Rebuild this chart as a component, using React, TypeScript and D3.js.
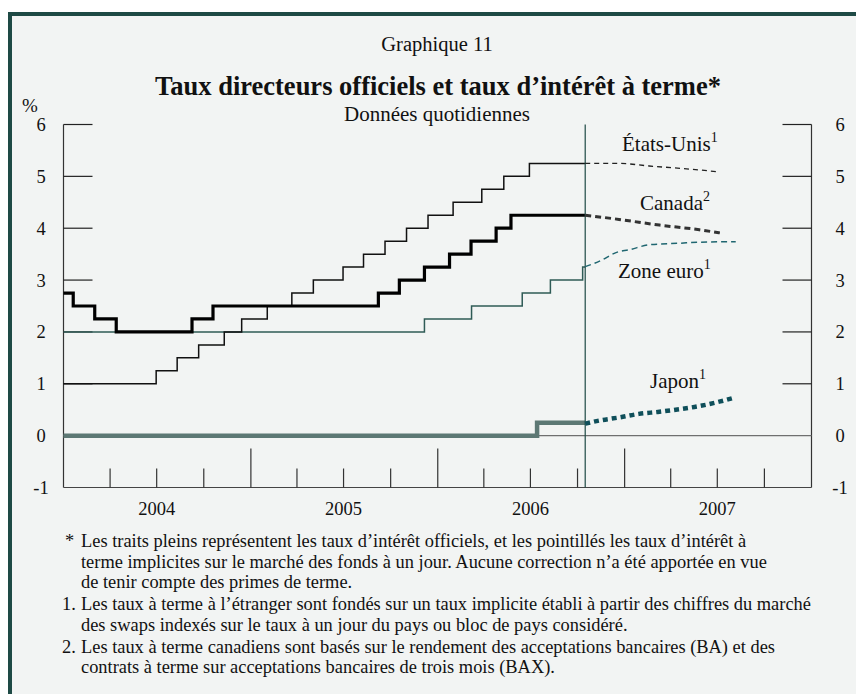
import React from "react";
import * as d3 from "d3";

const usDates = ["2004-01-01","2004-06-30","2004-08-10","2004-09-21","2004-11-10","2004-12-14","2005-02-02","2005-03-22","2005-05-03","2005-06-30","2005-08-09","2005-09-20","2005-11-01","2005-12-13","2006-01-31","2006-03-28","2006-05-10","2006-06-29","2006-10-16"];
const usValues = [1.0,1.25,1.5,1.75,2.0,2.25,2.5,2.75,3.0,3.25,3.5,3.75,4.0,4.25,4.5,4.75,5.0,5.25,5.25];

const caDates = ["2004-01-01","2004-01-20","2004-03-02","2004-04-13","2004-09-08","2004-10-19","2005-09-07","2005-10-18","2005-12-06","2006-01-24","2006-03-07","2006-04-25","2006-05-24","2006-10-16"];
const caValues = [2.75,2.5,2.25,2.0,2.25,2.5,2.75,3.0,3.25,3.5,3.75,4.0,4.25,4.25];

const euDates = ["2004-01-01","2005-12-06","2006-03-08","2006-06-15","2006-08-09","2006-10-11","2006-10-16"];
const euValues = [2.0,2.25,2.5,2.75,3.0,3.25,3.25];

const jpDates = ["2004-01-01","2006-07-14","2006-10-16"];
const jpValues = [0.0,0.25,0.25];

const usFwdDates = ["2006-10-16","2006-12-21","2007-02-18","2007-05-08","2007-07-01"];
const usFwdValues = [5.25,5.25,5.2,5.14,5.09];

const caFwdDates = ["2006-10-16","2006-12-21","2007-03-10","2007-05-27","2007-07-06"];
const caFwdValues = [4.25,4.17,4.06,3.97,3.91];

const euFwdDates = ["2006-10-16","2006-11-12","2006-12-21","2007-01-08","2007-02-18","2007-04-18","2007-05-27","2007-08-06"];
const euFwdValues = [3.26,3.36,3.55,3.58,3.68,3.71,3.73,3.74];

const jpFwdDates = ["2006-10-16","2006-11-12","2006-12-21","2007-01-29","2007-03-10","2007-04-18","2007-05-27","2007-07-07","2007-08-06"];
const jpFwdValues = [0.23,0.29,0.35,0.42,0.46,0.51,0.57,0.66,0.74];

const yTicks = [-1,0,1,2,3,4,5,6];
const yearLabels = ["2004","2005","2006","2007"];
const cutoffDate = "2006-10-16";

const footnotes = [
  { mark: "*", lines: ["Les traits pleins représentent les taux d’intérêt officiels, et les pointillés les taux d’intérêt à","terme implicites sur le marché des fonds à un jour. Aucune correction n’a été apportée en vue","de tenir compte des primes de terme."] },
  { mark: "1.", lines: ["Les taux à terme à l’étranger sont fondés sur un taux implicite établi à partir des chiffres du marché","des swaps indexés sur le taux à un jour du pays ou bloc de pays considéré."] },
  { mark: "2.", lines: ["Les taux à terme canadiens sont basés sur le rendement des acceptations bancaires (BA) et des","contrats à terme sur acceptations bancaires de trois mois (BAX)."] },
];

const parse = d3.utcParse("%Y-%m-%d");
const FONT = "'Liberation Serif', 'Times New Roman', serif";

export default function App() {
  const L = 63.5, R = 811.5, T = 124.5, B = 487.5;
  const x = d3.scaleUtc().domain([new Date(Date.UTC(2004,0,1)), new Date(Date.UTC(2008,0,1))]).range([L, R]);
  const y = d3.scaleLinear().domain([-1, 6]).range([B, T]);

  const toPts = (ds: string[], vs: number[]) => ds.map((d, i) => [parse(d) as Date, vs[i]] as [Date, number]);
  const step = d3.line<[Date, number]>().x(d => x(d[0])).y(d => y(d[1])).curve(d3.curveStepAfter);
  const smooth = d3.line<[Date, number]>().x(d => x(d[0])).y(d => y(d[1])).curve(d3.curveMonotoneX);

  const quarters = d3.utcMonth.every(3)!.range(new Date(Date.UTC(2004,3,1)), new Date(Date.UTC(2008,0,1)));
  const cx = x(parse(cutoffDate) as Date);

  let fy = 547;
  const fnLines: any[] = [];
  footnotes.forEach((f, fi) => {
    f.lines.forEach((ln, li) => {
      if (li === 0) fnLines.push(<text key={`m${fi}`} x={f.mark === "*" ? 65 : 62} y={fy} fontSize={18.4}>{f.mark}</text>);
      fnLines.push(<text key={`l${fi}-${li}`} x={81} y={fy} fontSize={18.4}>{ln}</text>);
      fy += 20.5;
    });
    fy += 1.5;
  });

  const lab = 21;
  const sup = 14;

  return (
    <svg width={856} height={694} style={{ position: "absolute", left: 0, top: 0 }} fontFamily={FONT}>
      <rect x={0} y={0} width={856} height={694} fill="#ffffff" />
      <rect x={8} y={12} width={860} height={700} fill="#1e4a45" />
      <rect x={12} y={16} width={860} height={700} fill="#f2f4f3" />

      <text x={437} y={51} fontSize={20.5} textAnchor="middle" fill="#111">Graphique 11</text>
      <text x={438} y={95} fontSize={26.5} fontWeight="bold" textAnchor="middle" fill="#111">Taux directeurs officiels et taux d’intérêt à terme*</text>
      <text x={437} y={120.5} fontSize={21} textAnchor="middle" fill="#111">Données quotidiennes</text>
      <text x={30} y={112} fontSize={19} textAnchor="middle" fill="#111">%</text>

      {/* axes */}
      <line x1={L} x2={L} y1={T} y2={B} stroke="#333" strokeWidth={1.2} />
      <line x1={R} x2={R} y1={T} y2={B} stroke="#333" strokeWidth={1.2} />
      <line x1={L} x2={R} y1={B} y2={B} stroke="#444" strokeWidth={1.2} />
      {yTicks.filter(t => t !== -1 && t !== 0).map(t => (
        <g key={`yt${t}`}>
          <line x1={L} x2={L + 29} y1={y(t)} y2={y(t)} stroke="#222" strokeWidth={1.2} />
          <line x1={R - 29} x2={R} y1={y(t)} y2={y(t)} stroke="#222" strokeWidth={1.2} />
        </g>
      ))}
      <line x1={L} x2={R} y1={y(0)} y2={y(0)} stroke="#6f6f6f" strokeWidth={1.3} />
      {yTicks.map(t => (
        <g key={`yl${t}`}>
          <text x={41} y={y(t) + 6.5} fontSize={18.5} textAnchor="middle" fill="#111">{t}</text>
          <text x={840} y={y(t) + 6.5} fontSize={18.5} textAnchor="middle" fill="#111">{t}</text>
        </g>
      ))}
      {quarters.map((q, i) => {
        const major = q.getUTCMonth() === 0;
        return <line key={`q${i}`} x1={x(q)} x2={x(q)} y1={B} y2={B - (major ? 39 : 19)} stroke="#333" strokeWidth={1.2} />;
      })}
      {yearLabels.map(yr => (
        <text key={yr} x={x(new Date(Date.UTC(+yr, 6, 1)))} y={515} fontSize={18.5} textAnchor="middle" fill="#111">{yr}</text>
      ))}

      {/* solid series */}
      <path d={step(toPts(jpDates, jpValues))!} fill="none" stroke="#5d7874" strokeWidth={4.5} />
      <path d={step(toPts(euDates, euValues))!} fill="none" stroke="#2f5b56" strokeWidth={1.5} />
      <path d={step(toPts(usDates, usValues))!} fill="none" stroke="#111" strokeWidth={1.5} />
      <path d={step(toPts(caDates, caValues))!} fill="none" stroke="#000" strokeWidth={3.2} />

      {/* cutoff */}
      <line x1={cx} x2={cx} y1={T} y2={B} stroke="#1e4a45" strokeWidth={1.2} />

      {/* forward */}
      <path d={smooth(toPts(usFwdDates, usFwdValues))!} fill="none" stroke="#222" strokeWidth={1.3} strokeDasharray="5 4" />
      <path d={smooth(toPts(caFwdDates, caFwdValues))!} fill="none" stroke="#333" strokeWidth={3} strokeDasharray="6 4" />
      <path d={smooth(toPts(euFwdDates, euFwdValues))!} fill="none" stroke="#1f6670" strokeWidth={1.5} strokeDasharray="6 4" />
      <path d={smooth(toPts(jpFwdDates, jpFwdValues))!} fill="none" stroke="#0f4f5a" strokeWidth={4.5} strokeDasharray="5 4" />

      {/* labels */}
      <text x={622} y={151} fontSize={lab} fill="#111">États-Unis<tspan fontSize={sup} dy={-9}>1</tspan></text>
      <text x={640} y={210} fontSize={lab} fill="#111">Canada<tspan fontSize={sup} dy={-9}>2</tspan></text>
      <text x={618} y={278} fontSize={lab} fill="#111">Zone euro<tspan fontSize={sup} dy={-9}>1</tspan></text>
      <text x={650} y={388} fontSize={lab} fill="#111">Japon<tspan fontSize={sup} dy={-9}>1</tspan></text>

      <g fill="#111">{fnLines}</g>
    </svg>
  );
}
